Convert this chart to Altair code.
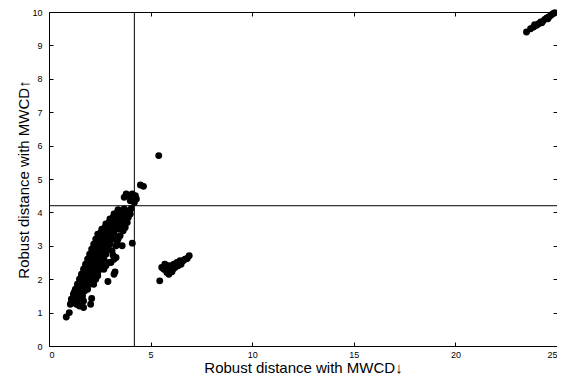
import altair as alt
import pandas as pd

# main cluster
main_x = [0.85, 1.0,
          1.05, 1.2, 1.35, 1.5, 1.7, 2.05,
          1.1, 1.3, 1.5, 1.7, 2.1,
          1.2, 1.35, 1.5, 1.65,
          1.3, 1.45, 1.6, 1.75, 1.9,
          1.4, 1.55, 1.7, 1.85, 2.0, 2.2,
          1.5, 1.65, 1.8, 1.95, 2.1, 2.3, 2.9,
          1.6, 1.75, 1.9, 2.05, 2.2, 2.4, 3.2, 3.25,
          1.7, 1.85, 2.0, 2.15, 2.3, 2.5, 2.7,
          1.8, 1.95, 2.1, 2.25, 2.4, 2.6, 3.05, 2.8,
          1.9, 2.05, 2.2, 2.35, 2.5, 2.7, 3.2, 3.3,
          2.0, 2.15, 2.3, 2.45, 2.6, 2.8,
          2.1, 2.25, 2.4, 2.55, 2.7, 2.9, 3.1,
          2.2, 2.35, 2.5, 2.65, 2.8, 3.0, 3.3, 3.6, 4.1,
          2.3, 2.45, 2.6, 2.75, 2.9, 3.1, 3.4,
          2.4, 2.55, 2.7, 2.85, 3.0, 3.2, 3.5,
          2.6, 2.75, 2.9, 3.05, 3.2, 3.4, 3.65,
          2.8, 2.95, 3.1, 3.25, 3.4, 3.6, 3.85,
          3.0, 3.15, 3.3, 3.45, 3.6, 3.8,
          3.2, 3.35, 3.5, 3.65, 3.8, 4.0,
          3.4, 3.7, 3.9, 4.05,
          3.7, 3.8, 3.95, 4.1, 4.25, 4.3, 4.0, 4.2, 4.5, 4.65,
          1.25, 1.45, 1.6, 1.8, 1.95, 2.15, 2.3, 2.45, 2.6, 2.75, 2.95, 3.1,
          3.3, 3.5, 3.7, 3.55, 3.75, 3.9, 3.35, 3.15, 2.95, 2.65, 2.4, 2.1,
          5.4]
main_y = [0.87, 1.0,
          1.25, 1.3, 1.25, 1.2, 1.15, 1.25,
          1.4, 1.45, 1.4, 1.35, 1.42,
          1.55, 1.6, 1.55, 1.5,
          1.7, 1.75, 1.7, 1.65, 1.7,
          1.85, 1.9, 1.85, 1.8, 1.85, 1.85,
          2.0, 2.05, 2.0, 1.95, 2.0, 2.0, 1.93,
          2.15, 2.2, 2.15, 2.1, 2.15, 2.1, 2.15, 2.22,
          2.3, 2.35, 2.3, 2.25, 2.3, 2.3, 2.3,
          2.45, 2.5, 2.45, 2.4, 2.45, 2.45, 2.5, 2.4,
          2.6, 2.65, 2.6, 2.55, 2.6, 2.6, 2.6, 2.65,
          2.75, 2.8, 2.75, 2.7, 2.75, 2.75,
          2.9, 2.95, 2.9, 2.85, 2.9, 2.9, 2.85,
          3.05, 3.1, 3.05, 3.0, 3.05, 3.05, 3.0, 3.0, 3.08,
          3.2, 3.25, 3.2, 3.15, 3.2, 3.2, 3.2,
          3.35, 3.4, 3.35, 3.3, 3.35, 3.35, 3.3,
          3.5, 3.55, 3.5, 3.45, 3.5, 3.5, 3.45,
          3.65, 3.7, 3.65, 3.6, 3.65, 3.65, 3.7,
          3.8, 3.85, 3.8, 3.75, 3.8, 3.8,
          3.95, 4.0, 3.95, 3.9, 3.95, 3.95,
          4.08, 4.1, 4.05, 4.12,
          4.45, 4.55, 4.5, 4.55, 4.5, 4.4, 4.35, 4.3, 4.82, 4.78,
          1.62, 1.82, 2.08, 2.38, 2.55, 2.68, 2.85, 3.0, 3.12, 3.3, 3.45, 3.58,
          3.72, 3.88, 4.0, 3.62, 3.55, 3.85, 3.1, 2.72, 2.5, 2.35, 2.2, 2.25,
          5.7]

# second cluster
c2_x = [5.45, 5.55, 5.65, 5.75, 5.8, 5.9, 5.95, 6.0, 6.05, 6.1, 6.15,
        6.2, 6.3, 6.35, 6.45, 6.5, 6.6, 6.7, 6.8, 6.9, 5.7, 5.85]
c2_y = [1.95, 2.35, 2.3, 2.38, 2.2, 2.15, 2.28, 2.4, 2.22, 2.3, 2.45,
        2.35, 2.5, 2.4, 2.55, 2.45, 2.55, 2.6, 2.62, 2.7, 2.45, 2.4]

# third cluster
c3_x = [23.5, 23.7, 23.85, 24.0, 24.1, 24.2, 24.3, 24.4, 24.5, 24.6,
        24.7, 24.8, 24.9, 23.9, 24.25, 24.55]
c3_y = [9.4, 9.5, 9.55, 9.6, 9.65, 9.7, 9.72, 9.78, 9.82, 9.85,
        9.9, 9.95, 9.98, 9.62, 9.68, 9.8]

cutoff_x = [4.2]
cutoff_y = [4.2]

x_ticks = [0, 5, 10, 15, 20, 25]
y_ticks = [0, 1, 2, 3, 4, 5, 6, 7, 8, 9, 10]

pts = pd.DataFrame({"x": main_x + c2_x + c3_x, "y": main_y + c2_y + c3_y})
vdf = pd.DataFrame({"x": cutoff_x})
hdf = pd.DataFrame({"y": cutoff_y})

FONT = "Liberation Sans"
xscale = alt.Scale(domain=[0, 25], nice=False, zero=False)
yscale = alt.Scale(domain=[0, 10], nice=False, zero=False)

W, H = 508, 334

common = dict(grid=False, domain=False, ticks=True, tickSize=4, offset=-4,
              tickColor="black", tickWidth=1, labelFont=FONT, labelFontSize=9,
              labelColor="black", titleFont=FONT, titleColor="black",
              titleFontWeight="normal")

points = alt.Chart(pts).mark_circle(size=48, color="black", opacity=1).encode(
    x=alt.X("x:Q", scale=xscale,
            axis=alt.Axis(values=x_ticks, title="Robust distance with MWCD↓",
                          labelPadding=4, titleFontSize=15,
                          titleBaseline="alphabetic", titleY=30, **common)),
    y=alt.Y("y:Q", scale=yscale,
            axis=alt.Axis(values=y_ticks, title="Robust distance with MWCD↑",
                          labelPadding=7, titleFontSize=15, titleAngle=-90,
                          titleBaseline="alphabetic", titleX=-25, titleY=H / 2,
                          **common)),
)

vline = alt.Chart(vdf).mark_rule(color="black", strokeWidth=1).encode(
    x=alt.X("x:Q", scale=xscale,
            axis=alt.Axis(orient="top", values=x_ticks, labels=False, title=None,
                          **common)),
)

hline = alt.Chart(hdf).mark_rule(color="black", strokeWidth=1).encode(
    y=alt.Y("y:Q", scale=yscale,
            axis=alt.Axis(orient="right", values=y_ticks, labels=False, title=None,
                          **common)),
)

chart = alt.layer(points, vline, hline).resolve_scale(
    x="independent", y="independent"
).properties(
    width=W, height=H,
    autosize=alt.AutoSizeParams(type="none"),
    padding={"left": 41, "top": 4, "right": 0, "bottom": 34},
    background="white",
).configure_view(stroke="black", strokeWidth=1)

chart.save("out.html", embed_options={"renderer": "svg", "actions": False})
